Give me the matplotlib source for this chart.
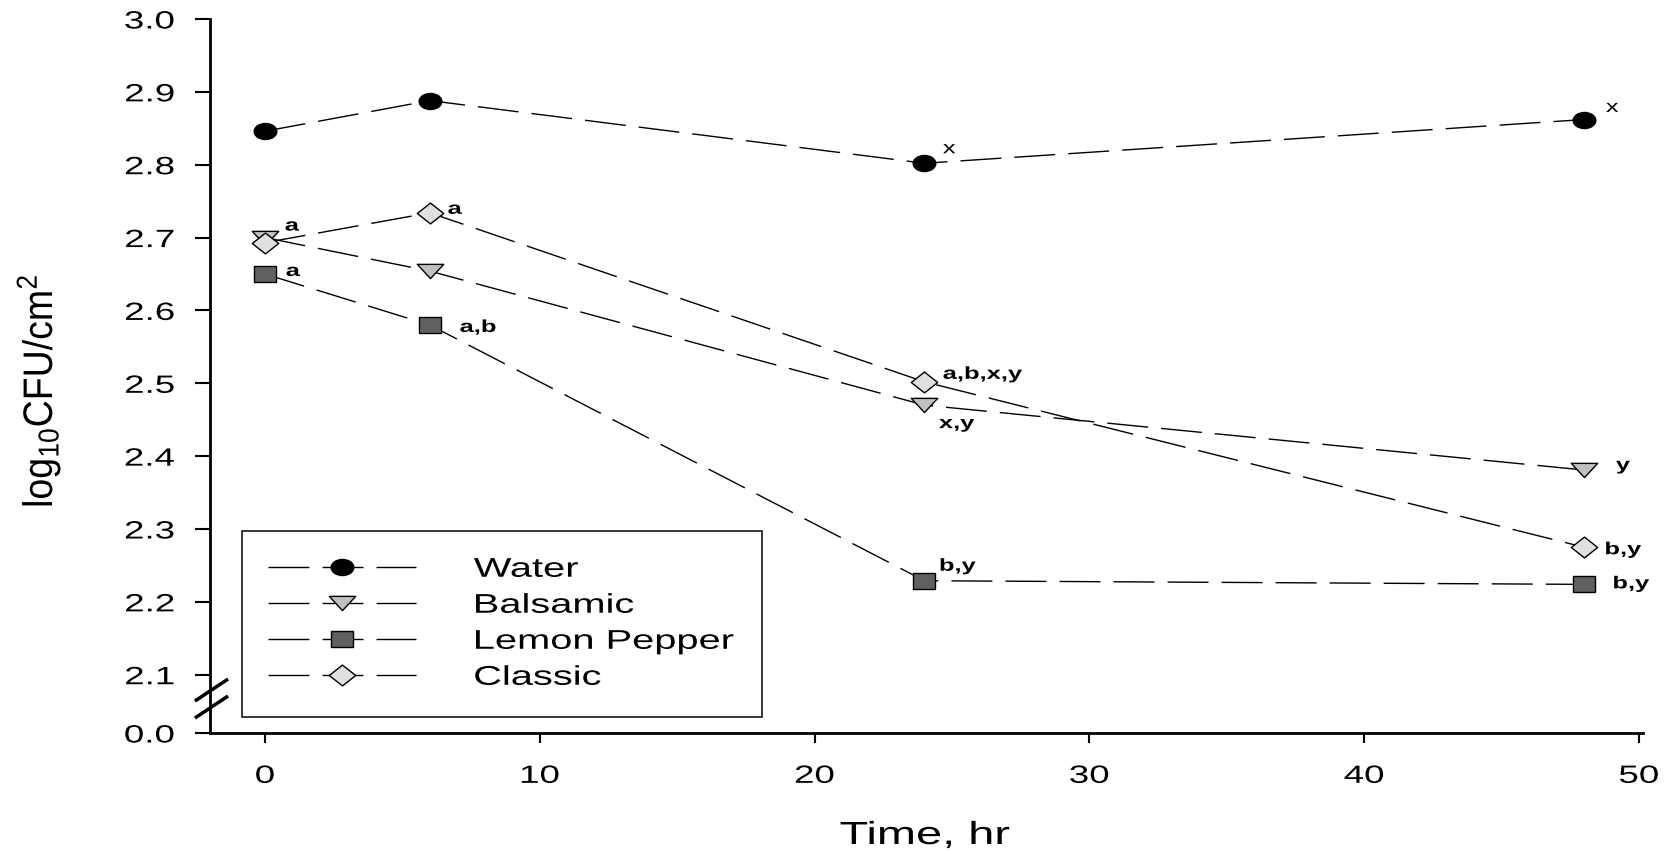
import matplotlib
matplotlib.use("Agg")
import matplotlib.pyplot as plt
from matplotlib.path import Path
from matplotlib.patheffects import AbstractPathEffect
from matplotlib.transforms import Affine2D

plt.rcParams['font.family'] = ['Liberation Sans', 'DejaVu Sans']
plt.rcParams['mathtext.fontset'] = 'custom'
plt.rcParams['mathtext.rm'] = 'Liberation Sans'
plt.rcParams['mathtext.it'] = 'Liberation Sans:italic'

# sampling times (hr)
time_hr = [0, 6, 24, 48]

# log10 CFU/cm2 for each marinade
water = [2.846, 2.888, 2.802, 2.862]
balsamic = [2.700, 2.654, 2.470, 2.381]
lemon_pepper = [2.650, 2.580, 2.229, 2.224]
classic = [2.693, 2.734, 2.502, 2.275]

series_names = ['Water', 'Balsamic', 'Lemon Pepper', 'Classic']

# significance letters beside each point ('' = none)
water_letters = ['', '', 'x', 'x']
balsamic_letters = ['a', '', 'x,y', 'y']
lemon_letters = ['a', 'a,b', 'b,y', 'b,y']
classic_letters = ['', 'a', 'a,b,x,y', 'b,y']

x_ticks = [0, 10, 20, 30, 40, 50]
y_ticks = [2.1, 2.2, 2.3, 2.4, 2.5, 2.6, 2.7, 2.8, 2.9, 3.0]
axis_floor = 2.02   # where the broken axis shows 0.0


class Stretch(AbstractPathEffect):
    """Draw text wider/narrower than the font, about one edge of its box."""

    def __init__(self, sx=1.0, sy=1.0, anchor='left'):
        super().__init__()
        self.sx, self.sy, self.anchor = sx, sy, anchor

    def draw_path(self, renderer, gc, tpath, affine, rgbFace=None):
        box = tpath.get_extents(affine)
        cx = {'left': box.x0, 'center': 0.5 * (box.x0 + box.x1), 'right': box.x1}[self.anchor]
        cy = 0.5 * (box.y0 + box.y1)
        t = affine + Affine2D().translate(-cx, -cy).scale(self.sx, self.sy).translate(cx, cy)
        renderer.draw_path(gc, tpath, t, rgbFace)


WIDE = 1.47


def shape(pts):
    return Path(pts + [pts[0]], [Path.MOVETO] + [Path.LINETO] * (len(pts) - 1) + [Path.CLOSEPOLY])


circ = Path.unit_circle()
m_circle = Path(circ.vertices * [1.0, 0.71], circ.codes)
m_square = shape([(-1, -0.74), (1, -0.74), (1, 0.74), (-1, 0.74)])
m_tri = shape([(-1, 0.54), (1, 0.54), (0, -0.54)])
m_diamond = shape([(-1, 0), (0, 0.79), (1, 0), (0, -0.79)])

fig = plt.figure(figsize=(16.73, 8.54), dpi=100)
ax = fig.add_axes([210 / 1673, 1 - 734 / 854, 1433 / 1673, 714 / 854])

styles = [
    (water, m_circle, 16.3, 'black', water_letters,
     [(0, 0), (0, 0), (18.5, 10), (22, 7.5)], 'normal'),
    (balsamic, m_tri, 19, '#c0c0c0', balsamic_letters,
     [(20, 7), (0, 0), (14.5, -23), (32, 0)], 'bold'),
    (lemon_pepper, m_square, 15.5, '#606060', lemon_letters,
     [(21, -2), (30, -7), (15, 10), (29, -4)], 'bold'),
    (classic, m_diamond, 19, '#e0e0e0', classic_letters,
     [(0, 0), (18, -1), (18.5, 3), (21, -7)], 'bold'),
]

handles = []
for name, (vals, mk, ms, fc, letters, offs, weight) in zip(series_names, styles):
    ln, = ax.plot(time_hr, vals, color='black', lw=1.0, dashes=(29.5, 9.4),
                  marker=mk, ms=ms, mfc=fc, mec='black', mew=1.0, label=name)
    handles.append(ln)
    for x, y, s, (dx, dy) in zip(time_hr, vals, letters, offs):
        if s:
            t = ax.annotate(s, (x, y), xytext=(dx, dy), textcoords='offset pixels',
                            ha='left', va='baseline', fontsize=12.5, fontweight=weight)
            t.set_path_effects([Stretch(WIDE)])

ax.set_xlim(-2, 50.15)
ax.set_ylim(axis_floor, 3.0)
ax.set_xticks(x_ticks, [str(v) for v in x_ticks])
ax.set_yticks([axis_floor] + y_ticks, ['0.0'] + ['%.1f' % v for v in y_ticks])

for side in ['top', 'right']:
    ax.spines[side].set_visible(False)
for side in ['left', 'bottom']:
    ax.spines[side].set_linewidth(2.0)
ax.tick_params(axis='y', direction='out', length=10.5, width=1.5, pad=15, labelsize=18)
ax.tick_params(axis='x', direction='out', length=7.2, width=1.5, pad=15, labelsize=18)
for lab in ax.get_yticklabels():
    lab.set_path_effects([Stretch(WIDE, anchor='right')])
for lab in ax.get_xticklabels():
    lab.set_path_effects([Stretch(WIDE, anchor='center')])

# axis break marks between 0.0 and 2.1
for y0 in [0.0448, 0.021]:
    ax.plot([-0.0105, 0.0126], [y0, y0 + 0.0308], transform=ax.transAxes,
            clip_on=False, color='black', lw=2.5, solid_capstyle='butt')

leg = ax.legend(handles=handles, loc='upper left',
                bbox_to_anchor=(242 / 1673, 1 - 532 / 854 - 0.3, 520 / 1673, 0.3),
                bbox_transform=fig.transFigure, mode='expand', borderaxespad=0,
                borderpad=0.95, handlelength=5.47, handletextpad=2.14,
                labelspacing=0.37, fontsize=19.5, fancybox=False, framealpha=1,
                edgecolor='black', numpoints=1)
leg.get_frame().set_linewidth(1.1)
for t in leg.get_texts():
    t.set_path_effects([Stretch(WIDE)])

xl = fig.text(925 / 1673, 1 - 845 / 854, 'Time, hr', ha='center', va='baseline', fontsize=23)
xl.set_path_effects([Stretch(WIDE, anchor='center')])
yl = fig.text(38 / 1673, 1 - 392 / 854, r'log$_{10}$CFU/cm$^2$', rotation=90,
              ha='center', va='center', fontsize=27)
yl.set_path_effects([Stretch(1.1, 1.0, anchor='center')])

fig.savefig('out.png', dpi=100)
